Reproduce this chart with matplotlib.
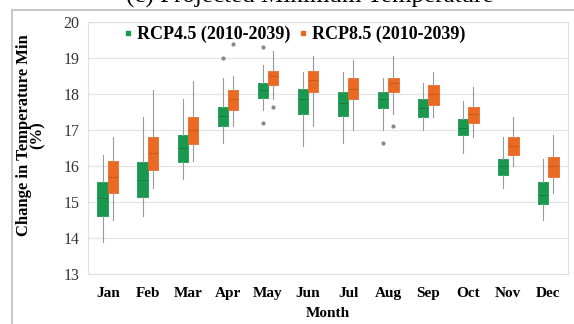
import matplotlib.pyplot as plt
from matplotlib.lines import Line2D
from matplotlib.patches import Rectangle

months = ['Jan', 'Feb', 'Mar', 'Apr', 'May', 'Jun', 'Jul', 'Aug', 'Sep', 'Oct', 'Nov', 'Dec']

# RCP4.5 (2010-2039)
rcp45_lo = [13.9, 14.6, 15.65, 16.65, 17.55, 16.55, 16.65, 17.0, 17.0, 16.35, 15.4, 14.5]
rcp45_q1 = [14.6, 15.15, 16.1, 17.1, 17.9, 17.45, 17.4, 17.6, 17.35, 16.85, 15.75, 14.95]
rcp45_med = [15.1, 15.6, 16.5, 17.4, 18.1, 17.85, 17.75, 17.85, 17.6, 17.05, 16.0, 15.2]
rcp45_q3 = [15.55, 16.1, 16.85, 17.65, 18.3, 18.15, 18.05, 18.05, 17.85, 17.3, 16.2, 15.55]
rcp45_hi = [16.3, 17.35, 17.85, 18.45, 18.8, 18.6, 18.6, 18.45, 18.3, 17.8, 16.8, 16.2]
rcp45_out = [[], [], [], [19.0], [19.3, 17.2], [], [], [16.65], [], [], [], []]

# RCP8.5 (2010-2039)
rcp85_lo = [14.5, 15.4, 16.15, 17.1, 17.85, 17.1, 17.0, 17.45, 17.35, 16.8, 16.0, 15.25]
rcp85_q1 = [15.25, 15.9, 16.6, 17.55, 18.25, 18.05, 17.85, 18.05, 17.7, 17.2, 16.3, 15.7]
rcp85_med = [15.7, 16.35, 17.0, 17.85, 18.5, 18.4, 18.15, 18.3, 18.0, 17.45, 16.55, 16.0]
rcp85_q3 = [16.15, 16.8, 17.35, 18.1, 18.65, 18.65, 18.45, 18.45, 18.25, 17.65, 16.8, 16.25]
rcp85_hi = [16.8, 18.1, 18.35, 18.5, 19.2, 19.05, 18.95, 19.05, 18.6, 18.2, 17.35, 16.85]
rcp85_out = [[], [], [], [19.4], [17.65], [], [], [17.1], [], [], [], []]

GREEN = '#1a9850'
ORANGE = '#ea6a24'

plt.rcParams['font.family'] = ['Liberation Serif', 'DejaVu Serif']


def make_stats(lo, q1, med, q3, hi, out):
    stats = []
    for i in range(len(lo)):
        stats.append({'whislo': lo[i], 'q1': q1[i], 'med': med[i], 'q3': q3[i],
                      'whishi': hi[i], 'fliers': out[i], 'mean': med[i]})
    return stats


fig = plt.figure(figsize=(5.74, 3.24), dpi=100)
ax = fig.add_axes([0.153, 0.154, 0.837, 0.778])

series = [
    (make_stats(rcp45_lo, rcp45_q1, rcp45_med, rcp45_q3, rcp45_hi, rcp45_out), GREEN, -0.13, '#0e6b35'),
    (make_stats(rcp85_lo, rcp85_q1, rcp85_med, rcp85_q3, rcp85_hi, rcp85_out), ORANGE, 0.13, '#a8461a'),
]
for stats, col, off, dark in series:
    pos = [i + off for i in range(len(months))]
    ax.bxp(stats, positions=pos, widths=0.26, patch_artist=True, showcaps=False,
           boxprops=dict(facecolor=col, edgecolor=col, linewidth=0.6),
           medianprops=dict(color=dark, linewidth=0.6, alpha=0.6),
           whiskerprops=dict(color='#9a9a9a', linewidth=0.8),
           flierprops=dict(marker='o', markersize=2, markerfacecolor='#888888',
                           markeredgecolor='#888888'),
           zorder=3)

ax.set_xlim(-0.5, len(months) - 0.5)
ax.set_ylim(13, 20)
ax.set_yticks(range(13, 21))
ax.yaxis.grid(True, color='#e3e3e3', linewidth=0.9)
ax.set_axisbelow(True)
for s in ax.spines.values():
    s.set_color('#e0e0e0')
ax.tick_params(length=0)
ax.tick_params(axis='y', labelsize=11.5, pad=6, colors='#333333')
ax.set_xticks(range(len(months)))
ax.set_xticklabels(months, fontsize=11, fontweight='bold')
ax.tick_params(axis='x', pad=9)
ax.set_xlabel('Month', fontsize=11, fontweight='bold', labelpad=5)
ax.set_ylabel('Change in Temperature Min\n(%)', fontsize=12, fontweight='bold',
              linespacing=0.8)
ax.yaxis.set_label_coords(-0.088, 0.55)

handles = [Line2D([], [], marker='s', linestyle='none', markersize=3.5, color=GREEN),
           Line2D([], [], marker='s', linestyle='none', markersize=3.5, color=ORANGE)]
ax.legend(handles, ['RCP4.5 (2010-2039)', 'RCP8.5 (2010-2039)'], ncol=2, frameon=False,
          loc='upper left', bbox_to_anchor=(0.03, 1.05), handletextpad=0.0,
          handlelength=1.0, columnspacing=0.2, prop={'weight': 'bold', 'size': 13})

fig.patches.append(Rectangle((12 / 574, -0.1), 1.2, 1.1 - 10 / 324, transform=fig.transFigure,
                             fill=False, edgecolor='#bdbdbd', linewidth=1.2))
fig.text(0.54, 1 - 3 / 324, '(c) Projected Minimum Temperature', ha='center', va='baseline',
         fontsize=18)

fig.savefig('out.png', dpi=100)
